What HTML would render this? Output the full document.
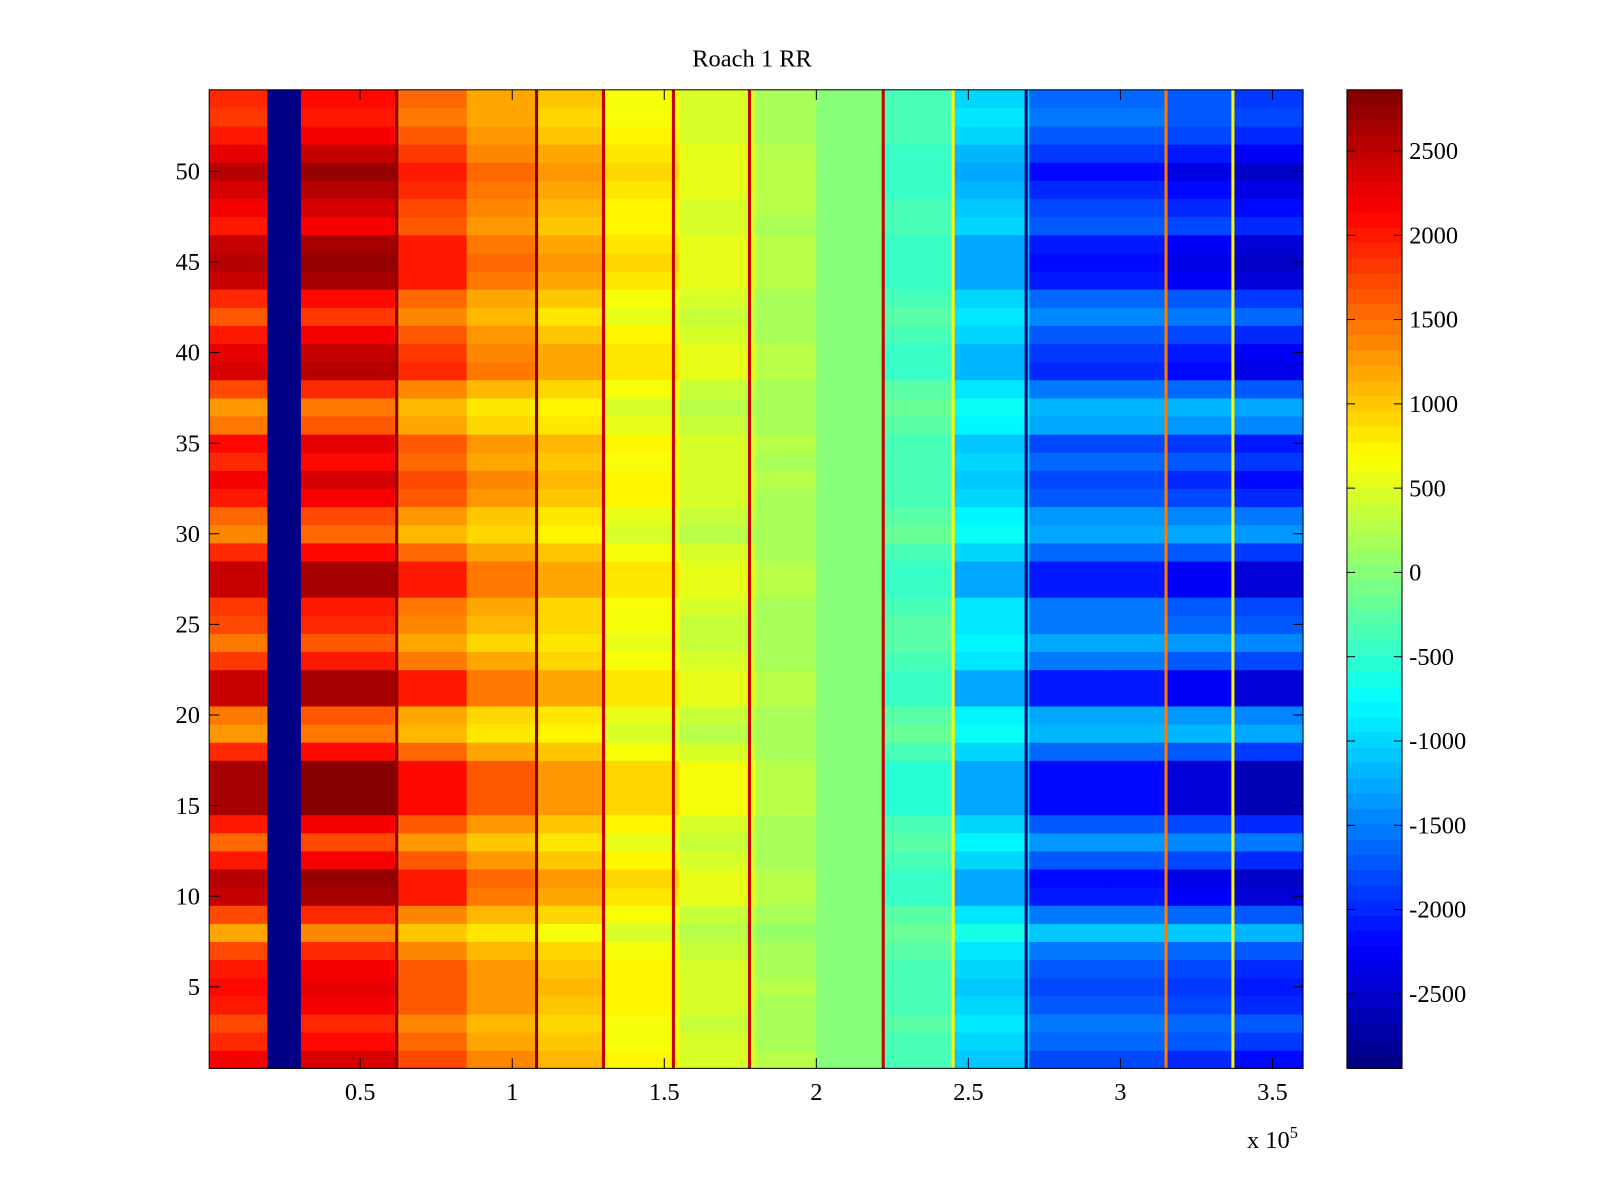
<!DOCTYPE html>
<html><head><meta charset="utf-8"><style>
html,body{margin:0;padding:0;background:#fff;overflow:hidden;}
svg{display:block;}
svg text{font-family:"Liberation Serif",serif;font-size:24px;fill:#000;}
</style></head><body>
<svg id="chart" width="1600" height="1200" viewBox="0 0 1568 1176" preserveAspectRatio="none" xmlns="http://www.w3.org/2000/svg">
<rect width="1568" height="1176" fill="#fff"/>
<text x="737" y="65" text-anchor="middle">Roach 1 RR</text>
<g id="cells"></g>
<g id="axes"></g>
<g id="cbar"></g>
</svg>
<script>
// column bands (x in units of 1e5): edges, base value, row-strength amplitude
const bandEdges = [0, 0.195, 0.305, 0.62, 0.85, 1.08, 1.3, 1.55, 1.8, 2.0, 2.22, 2.45, 2.7, 2.95, 3.15, 3.37, 3.6];
const bandBase  = [1700, -2900, 1900, 1400, 1100, 900, 600, 400, 200, 0, -300, -900, -1500, -1500, -1600, -1700];
const bandAmp   = [900, 0, 900, 700, 500, 400, 300, 200, 100, 0, -200, -400, -700, -700, -800, -900];
// per-row strength, rows 1..54
const rowGain = [0.5,0.2,0,0.3,0.4,0.3,0,-0.6,0,0.8,0.9,0.3,-0.2,0.3,1,1,1,0.2,-0.5,-0.3,0.8,0.8,0.1,-0.3,0,0.1,0.8,0.8,0.2,-0.4,-0.2,0.3,0.5,0.2,0.4,-0.3,-0.5,0,0.7,0.6,0.3,-0.1,0.2,0.8,0.9,0.8,0.3,0.5,0.7,0.9,0.6,0.3,0.1,0.2];
// thin vertical stripes
const stripeX = [0.62, 1.08, 1.3, 1.53, 1.78, 2.22, 2.45, 2.69, 3.15, 3.37];
const stripeVal = [2800, 2800, 2500, 2500, 2500, 2500, 700, -2900, 1500, 700];
const xTicks = [0.5, 1, 1.5, 2, 2.5, 3, 3.5];
const yTicks = [5, 10, 15, 20, 25, 30, 35, 40, 45, 50];
const cTicks = [2500, 2000, 1500, 1000, 500, 0, -500, -1000, -1500, -2000, -2500];
const cMin = -2942, cMax = 2863;

const L = 205, R = 1277, T = 88, B = 1047;
const xs = v => 204 + (v) * 298;
const ys = v => 1047 - (v - 0.5) * ((B - T) / 54);
const cs = v => 1047 - (v - cMin) / (cMax - cMin) * (B - T);
const NS = 'http://www.w3.org/2000/svg';
function jet(v) {
  let t = (v - cMin) / (cMax - cMin);
  t = Math.max(0, Math.min(1, t));
  t = (Math.floor(t * 64) + 0.5) / 64;
  const f = x => Math.max(0, Math.min(1, x));
  const r = f(Math.min(4 * t - 1.5, -4 * t + 4.5));
  const g = f(Math.min(4 * t - 0.5, -4 * t + 3.5));
  const b = f(Math.min(4 * t + 0.5, -4 * t + 2.5));
  return `rgb(${Math.round(r*255)},${Math.round(g*255)},${Math.round(b*255)})`;
}
function mk(tag, attrs, parent) {
  const e = document.createElementNS(NS, tag);
  for (const k in attrs) e.setAttribute(k, attrs[k]);
  parent.appendChild(e);
  return e;
}
const cells = document.getElementById('cells');
for (let i = 0; i < rowGain.length; i++) {
  const y0 = ys(i + 1.5), y1 = ys(i + 0.5);
  for (let j = 0; j < bandBase.length; j++) {
    const x0 = xs(bandEdges[j]), x1 = xs(bandEdges[j + 1]);
    const r = mk('rect', {x: Math.max(L, x0), y: y0, width: Math.min(R, x1) - Math.max(L, x0) + 0.5, height: y1 - y0 + 0.5, fill: jet(bandBase[j] + rowGain[i] * bandAmp[j])}, cells);
    
    
  }
}
for (let k = 0; k < stripeX.length; k++) {
  const r = mk('rect', {x: xs(stripeX[k]) - 1.5, y: T, width: 3, height: B - T, fill: jet(stripeVal[k])}, cells);
  
  
}
const axes = document.getElementById('axes');
const frame = mk('rect', {x: L, y: T, width: R - L, height: B - T, fill: 'none', stroke: '#000', 'stroke-width': 1}, axes);


xTicks.forEach(v => {
  const x = xs(v);
  mk('line', {x1: x, x2: x, y1: B, y2: B - 10, stroke: '#000'}, axes);
  mk('line', {x1: x, x2: x, y1: T, y2: T + 10, stroke: '#000'}, axes);
  const t = mk('text', {x: x, y: 1078, 'text-anchor': 'middle'}, axes);
  t.textContent = v;
  
  
});
yTicks.forEach(v => {
  const y = ys(v);
  mk('line', {x1: L, x2: L + 10, y1: y, y2: y, stroke: '#000'}, axes);
  mk('line', {x1: R, x2: R - 10, y1: y, y2: y, stroke: '#000'}, axes);
  const t = mk('text', {x: 196, y: y + 8, 'text-anchor': 'end'}, axes);
  t.textContent = v;
  
  
});
const ex = mk('text', {x: 1222, y: 1125}, axes);
ex.innerHTML = 'x 10<tspan dy="-10" font-size="16">5</tspan>';


const cb = document.getElementById('cbar');
const CL = 1320, CR = 1374;
for (let k = 0; k < 64; k++) {
  const v0 = cMin + (cMax - cMin) * k / 64, v1 = cMin + (cMax - cMin) * (k + 1) / 64;
  const r = mk('rect', {x: CL, y: cs(v1), width: CR - CL, height: cs(v0) - cs(v1) + 0.5, fill: jet((v0 + v1) / 2)}, cb);
  
  
}
const cf = mk('rect', {x: CL, y: T, width: CR - CL, height: B - T, fill: 'none', stroke: '#000'}, cb);


cTicks.forEach(v => {
  const y = cs(v);
  mk('line', {x1: CL, x2: CL + 8, y1: y, y2: y, stroke: '#000'}, cb);
  mk('line', {x1: CR, x2: CR - 8, y1: y, y2: y, stroke: '#000'}, cb);
  const t = mk('text', {x: 1381, y: y + 8}, cb);
  t.textContent = v;
  
  
});
</script>
</body></html>
